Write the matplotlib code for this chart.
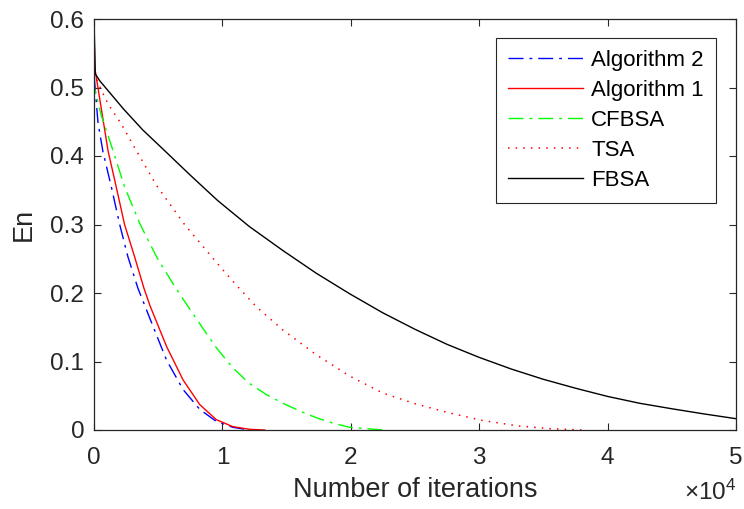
import numpy as np
import matplotlib
matplotlib.use("Agg")
import matplotlib.pyplot as plt
from matplotlib.ticker import FuncFormatter

plt.rcParams['font.family'] = ['Liberation Sans', 'DejaVu Sans']
plt.rcParams['mathtext.fontset'] = 'custom'
plt.rcParams['mathtext.rm'] = 'Liberation Sans'

# Valores (iteraciones, En)
x_alg2 = [0, 40, 310, 700, 1350, 2000, 2640, 3420, 4350, 5650, 6940, 8240, 9530, 10800, 12100]
y_alg2 = [0.6, 0.51, 0.449, 0.406, 0.355, 0.300, 0.253, 0.207, 0.163, 0.102, 0.059, 0.030, 0.0125, 0.004, 0.0]

x_alg1 = [0, 50, 1090, 1730, 2380, 3160, 3890, 4350, 5650, 6940, 8240, 9530, 10800, 12100, 13300]
y_alg1 = [0.6, 0.53, 0.408, 0.355, 0.300, 0.253, 0.207, 0.182, 0.122, 0.073, 0.037, 0.015, 0.005, 0.001, 0.0]

x_cfbsa = [0, 30, 570, 1480, 2380, 3600, 4870, 6040, 6940, 8240, 9530, 10800, 12100, 13400, 14710,
           16000, 17300, 18600, 19890, 22500]
y_cfbsa = [0.6, 0.50, 0.459, 0.408, 0.355, 0.300, 0.253, 0.217, 0.191, 0.155, 0.120, 0.091, 0.068, 0.052, 0.039,
           0.028, 0.018, 0.010, 0.004, 0.0]

x_tsa = [0, 40, 300, 1090, 2120, 3290, 4870, 7050, 9380, 10960, 12640, 14710, 17300, 19890,
         22480, 25070, 27660, 30250, 33000, 35500, 38000]
y_tsa = [0.6, 0.52, 0.507, 0.476, 0.447, 0.408, 0.357, 0.300, 0.248, 0.214, 0.180, 0.146, 0.110, 0.079,
         0.054, 0.038, 0.025, 0.014, 0.006, 0.002, 0.0]

x_fbsa = [0, 100, 440, 2280, 3800, 5490, 7500, 9630, 12100, 14710, 17300, 19900, 22500, 25000, 27500,
          30000, 32500, 35000, 37500, 40000, 42500, 45000, 47500, 50000]
y_fbsa = [0.6, 0.52, 0.51, 0.469, 0.438, 0.408, 0.372, 0.335, 0.297, 0.262, 0.229, 0.199, 0.171, 0.147, 0.125,
          0.106, 0.089, 0.074, 0.061, 0.049, 0.039, 0.031, 0.0235, 0.0165]

gris = '#262626'

fig = plt.figure(figsize=(7.44, 5.09), dpi=100)
ax = fig.add_axes([94 / 744, 1 - 430 / 509, 642 / 744, 411 / 509])

ax.plot(x_alg2, y_alg2, color=(0, 0, 1), lw=1, linestyle=(0, (10.8, 4.3, 2, 4.3)), label='Algorithm 2')
ax.plot(x_alg1, y_alg1, color=(1, 0, 0), lw=1, linestyle='-', label='Algorithm 1')
ax.plot(x_cfbsa, y_cfbsa, color=(0, 1, 0), lw=1, linestyle=(0, (10.8, 4.3, 2, 4.3)), label='CFBSA')
ax.plot(x_tsa, y_tsa, color=(1, 0, 0), lw=1.1, linestyle=(0, (1, 4)), label='TSA')
ax.plot(x_fbsa, y_fbsa, color='k', lw=1, linestyle='-', label='FBSA')

ax.set_xlim(0, 50000)
ax.set_ylim(0, 0.6)
ax.set_xticks([0, 10000, 20000, 30000, 40000, 50000])
ax.set_yticks([0, 0.1, 0.2, 0.3, 0.4, 0.5, 0.6])
ax.xaxis.set_major_formatter(FuncFormatter(lambda v, p: '%g' % (v / 1e4)))
ax.yaxis.set_major_formatter(FuncFormatter(lambda v, p: '%g' % v))
ax.tick_params(direction='in', length=5, width=0.8, top=True, right=True,
               labelsize=17.5, colors=gris)
ax.tick_params(axis='x', pad=12)
ax.tick_params(axis='y', pad=7)
for s in ax.spines.values():
    s.set_color(gris)
    s.set_linewidth(0.9)

ax.set_xlabel('Number of iterations', fontsize=19.5, color=gris, labelpad=6)
ax.set_ylabel('En', fontsize=19.5, color=gris, labelpad=10)
ax.text(1.0, -0.170, r'$\times\mathregular{10^{4}}$', transform=ax.transAxes,
        ha='right', va='baseline', fontsize=17.5, color=gris)

leg = ax.legend(loc='upper right', bbox_to_anchor=(0.969, 0.954), borderaxespad=0,
                fontsize=16, handlelength=3.4, handletextpad=0.35, labelspacing=0.4,
                borderpad=0.55, fancybox=False, framealpha=1, edgecolor=gris)
leg.get_frame().set_linewidth(0.8)

plt.savefig('out.png', dpi=100)
